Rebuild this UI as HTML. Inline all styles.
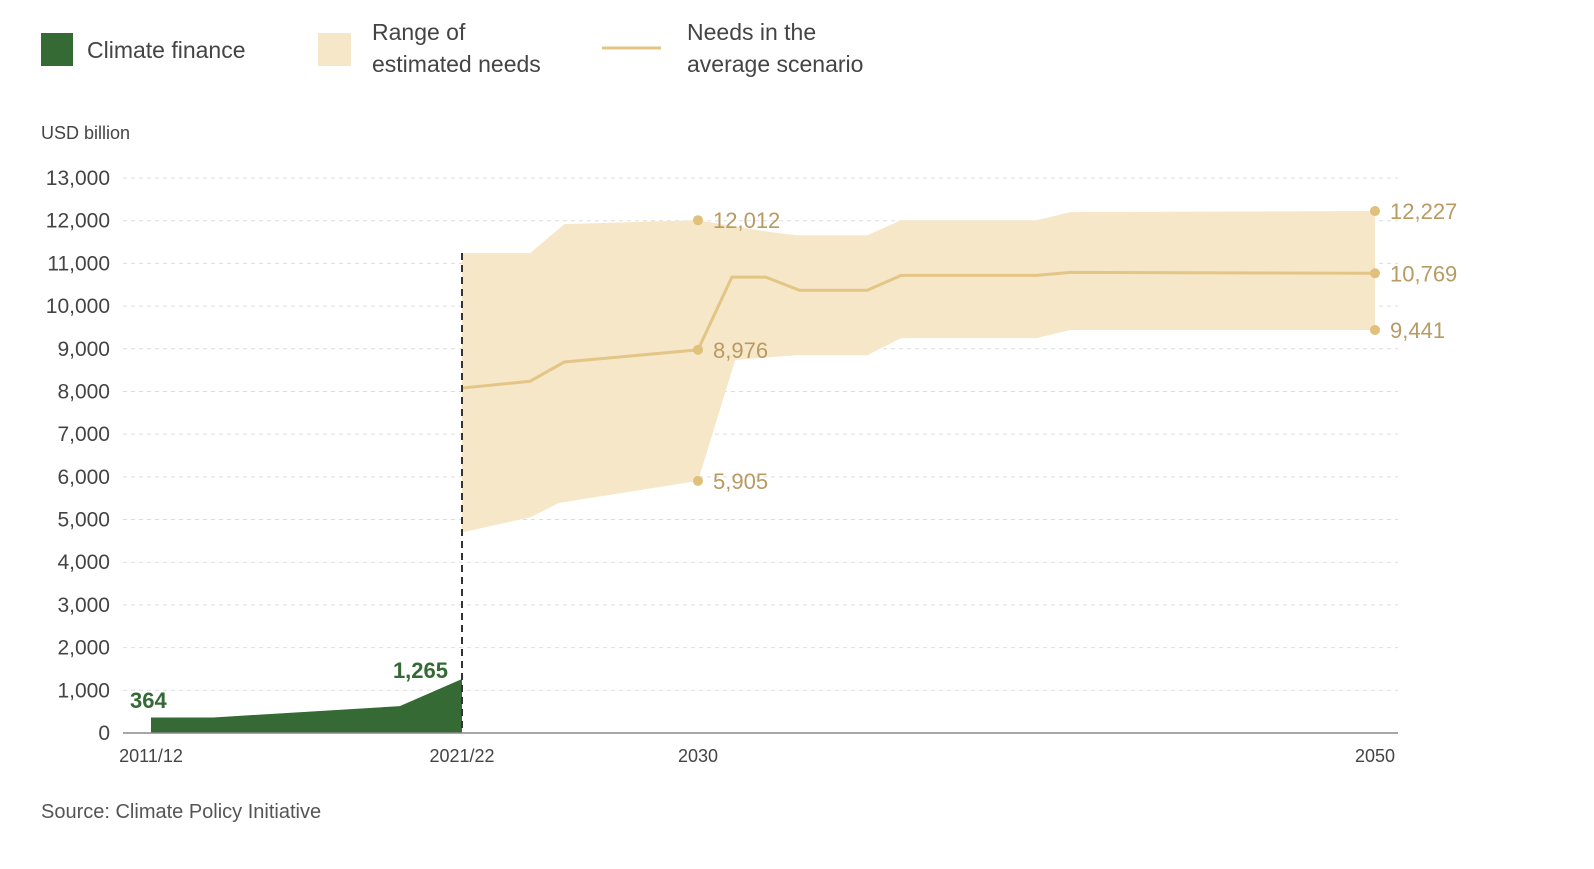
<!DOCTYPE html>
<html><head><meta charset="utf-8"><style>
body{margin:0;background:#fff;width:1594px;height:864px;overflow:hidden;font-family:"Liberation Sans",sans-serif}
</style></head><body>
<svg id="chart" width="1594" height="864" xmlns="http://www.w3.org/2000/svg" font-family="Liberation Sans, sans-serif">
<g>
<rect x="41" y="33" width="32" height="33" fill="#356a35"/>
<text x="87" y="58" font-size="23" fill="#444">Climate finance</text>
<rect x="318" y="33" width="33" height="33" fill="#f6e7c9"/>
<text x="372" y="40" font-size="23" fill="#444">Range of</text>
<text x="372" y="72" font-size="23" fill="#444">estimated needs</text>
<line x1="602" y1="48" x2="661" y2="48" stroke="#e3c585" stroke-width="3"/>
<text x="687" y="40" font-size="23" fill="#444">Needs in the</text>
<text x="687" y="72" font-size="23" fill="#444">average scenario</text>
</g>
<text x="41" y="139" font-size="18" fill="#444">USD billion</text>
<g id="grid"></g><g id="marks"></g><g id="labels"></g>
<text x="41" y="818" font-size="20" fill="#555">Source: Climate Policy Initiative</text>
</svg>
<script>
const yTicks=[0,1000,2000,3000,4000,5000,6000,7000,8000,9000,10000,11000,12000,13000];
const xTickYears=[2011,2021,2030,2050];
const xTickLabels=["2011/12","2021/22","2030","2050"];
const financeYears=[2011,2013,2019,2021];
const financeValues=[364,364,630,1265];
const rangeUpperYears=[2021,2023.6,2024.9,2030,2032,2032.9,2035,2036,2040,2041,2050];
const rangeUpper=[11240,11240,11920,12012,11750,11660,11660,12010,12010,12200,12227];
const rangeLowerYears=[2021,2023.6,2024.7,2030,2031.1,2032.9,2035,2036,2040,2041,2050];
const rangeLower=[4700,5050,5390,5905,8740,8850,8850,9250,9250,9441,9441];
const avgYears=[2021,2023.6,2024.9,2030,2031,2032,2033,2035,2036,2040,2041,2050];
const avgValues=[8080,8240,8690,8976,10680,10680,10370,10370,10720,10720,10790,10769];
const annotYears=[2030,2030,2030,2050,2050,2050];
const annotValues=[12012,8976,5905,12227,10769,9441];
const annotText=["12,012","8,976","5,905","12,227","10,769","9,441"];

const NS="http://www.w3.org/2000/svg";
const anchorsY=[2011,2021,2030,2050], anchorsPx=[151,462,698,1375];
function x(yr){for(let i=0;i<anchorsY.length-1;i++){if(yr<=anchorsY[i+1]||i===anchorsY.length-2){const t=(yr-anchorsY[i])/(anchorsY[i+1]-anchorsY[i]);return anchorsPx[i]+t*(anchorsPx[i+1]-anchorsPx[i]);}}}
function y(v){return 733-v*0.04269;}
function mk(tag,attrs,parent){const e=document.createElementNS(NS,tag);for(const k in attrs)e.setAttribute(k,attrs[k]);parent.appendChild(e);return e;}
const grid=document.getElementById('grid'),marks=document.getElementById('marks'),labels=document.getElementById('labels');
yTicks.forEach(v=>{
  if(v>0){const g=mk('line',{x1:123,x2:1398,y1:y(v),y2:y(v),stroke:'#ddd','stroke-width':1,'stroke-dasharray':'4 4'},grid);
  
  }
  const t=mk('text',{x:110,y:y(v)+7,'font-size':21,fill:'#444','text-anchor':'end'},grid);
  t.textContent=v.toLocaleString('en-US');
  
  
});
xTickYears.forEach((yr,i)=>{
  const t=mk('text',{x:x(yr),y:762,'font-size':18,fill:'#444','text-anchor':'middle'},grid);
  t.textContent=xTickLabels[i];
  
  
});
// range band
let d='M'+rangeUpperYears.map((yr,i)=>x(yr)+','+y(rangeUpper[i])).join('L');
for(let i=rangeLowerYears.length-1;i>=0;i--)d+='L'+x(rangeLowerYears[i])+','+y(rangeLower[i]);
const band=mk('path',{d:d+'Z',fill:'#f6e7c9'},marks);


// finance area
let fd='M'+x(financeYears[0])+','+y(0)+financeYears.map((yr,i)=>'L'+x(yr)+','+y(financeValues[i])).join('')+'L'+x(financeYears[financeYears.length-1])+','+y(0)+'Z';
const area=mk('path',{d:fd,fill:'#356a35'},marks);


// average line
const ln=mk('polyline',{points:avgYears.map((yr,i)=>x(yr)+','+y(avgValues[i])).join(' '),fill:'none',stroke:'#e3c585','stroke-width':3},marks);


// axis
const ax=mk('line',{x1:123,x2:1398,y1:y(0),y2:y(0),stroke:'#888','stroke-width':1.5},marks);


const dl=mk('line',{x1:x(2021),x2:x(2021),y1:253,y2:y(0),stroke:'#333','stroke-width':2,'stroke-dasharray':'7 5'},marks);


// annotations
annotYears.forEach((yr,i)=>{
  const c=mk('circle',{cx:x(yr),cy:y(annotValues[i]),r:5,fill:'#e0c07a'},labels);
  
  
  const t=mk('text',{x:x(yr)+15,y:y(annotValues[i])+8,'font-size':22,fill:'#b89a62'},labels);
  t.textContent=annotText[i];
  
  
});
const l1=mk('text',{x:130,y:708,'font-size':22,'font-weight':'bold',fill:'#356a35'},labels);
l1.textContent=financeValues[0].toLocaleString('en-US');


const l2=mk('text',{x:448,y:678,'font-size':22,'font-weight':'bold',fill:'#356a35','text-anchor':'end'},labels);
l2.textContent=financeValues[financeValues.length-1].toLocaleString('en-US');


</script>
</body></html>
